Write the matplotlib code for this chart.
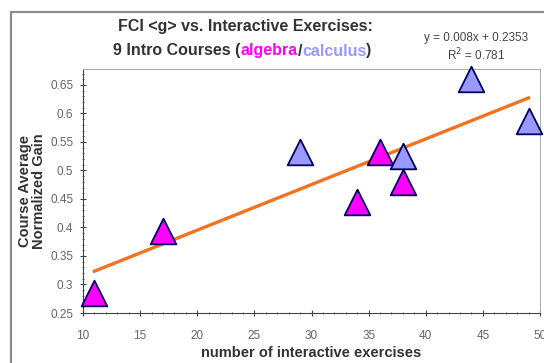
import numpy as np
import matplotlib.pyplot as plt
from matplotlib.patches import Rectangle
from matplotlib.ticker import MultipleLocator

# data
algebra_x = [11, 17, 34, 36, 38]
algebra_y = [0.285, 0.393, 0.444, 0.533, 0.479]
calculus_x = [29, 38, 44, 49]
calculus_y = [0.533, 0.525, 0.660, 0.586]

# trendline as shown in the chart label
slope = 0.008
intercept = 0.2353
r2 = 0.781

x_ticks = [10, 15, 20, 25, 30, 35, 40, 45, 50]
y_ticks = [0.25, 0.3, 0.35, 0.4, 0.45, 0.5, 0.55, 0.6, 0.65]
y_ticklabels = ['0.25', '0.3', '0.35', '0.4', '0.45', '0.5', '0.55', '0.6', '0.65']

plt.rcParams['font.family'] = ['Liberation Sans', 'DejaVu Sans']

fig = plt.figure(figsize=(5.44, 3.63), dpi=100)
W, H = 544, 363

# outer chart border
fig.patches.append(Rectangle((11 / W, -0.05), 1.0, (H - 12) / H + 0.05,
                             transform=fig.transFigure, fill=False,
                             edgecolor='#8c8c8c', linewidth=1.6))

ax = fig.add_axes([83 / W, 1 - 313 / H, (540 - 83) / W, (313 - 69) / H])
ax.set_xlim(10, 50)
ax.set_ylim(0.25, 0.678)

# trendline
all_x = np.array(algebra_x + calculus_x)
xs = np.array([all_x.min(), all_x.max()])
ax.plot(xs, slope * xs + intercept, color='#f07420', linewidth=2.4, zorder=2)

ax.scatter(algebra_x, algebra_y, marker='^', s=340, color='#ff00ff',
           edgecolors='#000060', linewidths=1.3, zorder=3, clip_on=False)
ax.scatter(calculus_x, calculus_y, marker='^', s=340, color='#9999ff',
           edgecolors='#000060', linewidths=1.3, zorder=3, clip_on=False)

ax.set_xticks(x_ticks)
ax.set_yticks(y_ticks)
ax.set_yticklabels(y_ticklabels)
ax.xaxis.set_minor_locator(MultipleLocator(1))
ax.yaxis.set_minor_locator(MultipleLocator(0.01))
ax.tick_params(axis='both', which='major', direction='inout', length=4,
               labelsize=8.5, labelcolor='#666666', color='#444444')
ax.tick_params(axis='both', which='minor', direction='inout', length=2,
               color='#444444')
ax.tick_params(axis='x', pad=10)
ax.tick_params(axis='y', pad=5)
for side in ['top', 'right']:
    ax.spines[side].set_color('#b0b0b0')
for side in ['left', 'bottom']:
    ax.spines[side].set_color('#444444')

ax.set_xlabel('number of interactive exercises', fontsize=10.5, fontweight='bold',
              color='#333333', labelpad=3)
ax.set_ylabel('Course Average\nNormalized Gain', fontsize=10.5, fontweight='bold',
              color='#333333', labelpad=3, linespacing=1.0)

# title with coloured words
title_fs = 11.5
fig.text(245 / W, 1 - 27 / H, 'FCI <g> vs. Interactive Exercises:', ha='center',
         va='center', fontsize=title_fs, fontweight='bold', color='#333333')
t1 = fig.text(113 / W, 1 - 51 / H, '9 Intro Courses (', ha='left', va='center',
              fontsize=title_fs, fontweight='bold', color='#333333')
fig.canvas.draw()
r = fig.canvas.get_renderer()
x0 = t1.get_window_extent(r).x1
for part, col in [('algebra', '#ff00ff'), ('/', '#333333'),
                  ('calculus', '#9999ff'), (')', '#333333')]:
    t = fig.text(x0 / W, 1 - 51 / H, part, ha='left', va='center',
                 fontsize=title_fs, fontweight='bold', color=col)
    x0 = t.get_window_extent(r).x1

fig.text(476 / W, 1 - 38 / H,
         'y = %.3fx + %.4f' % (slope, intercept), ha='center', va='center',
         fontsize=8.5, color='#444444')
fig.text(476 / W, 1 - 55 / H, 'R$^2$ = %.3f' % r2, ha='center', va='center',
         fontsize=8.5, color='#444444')

fig.savefig('out.png', dpi=100)
